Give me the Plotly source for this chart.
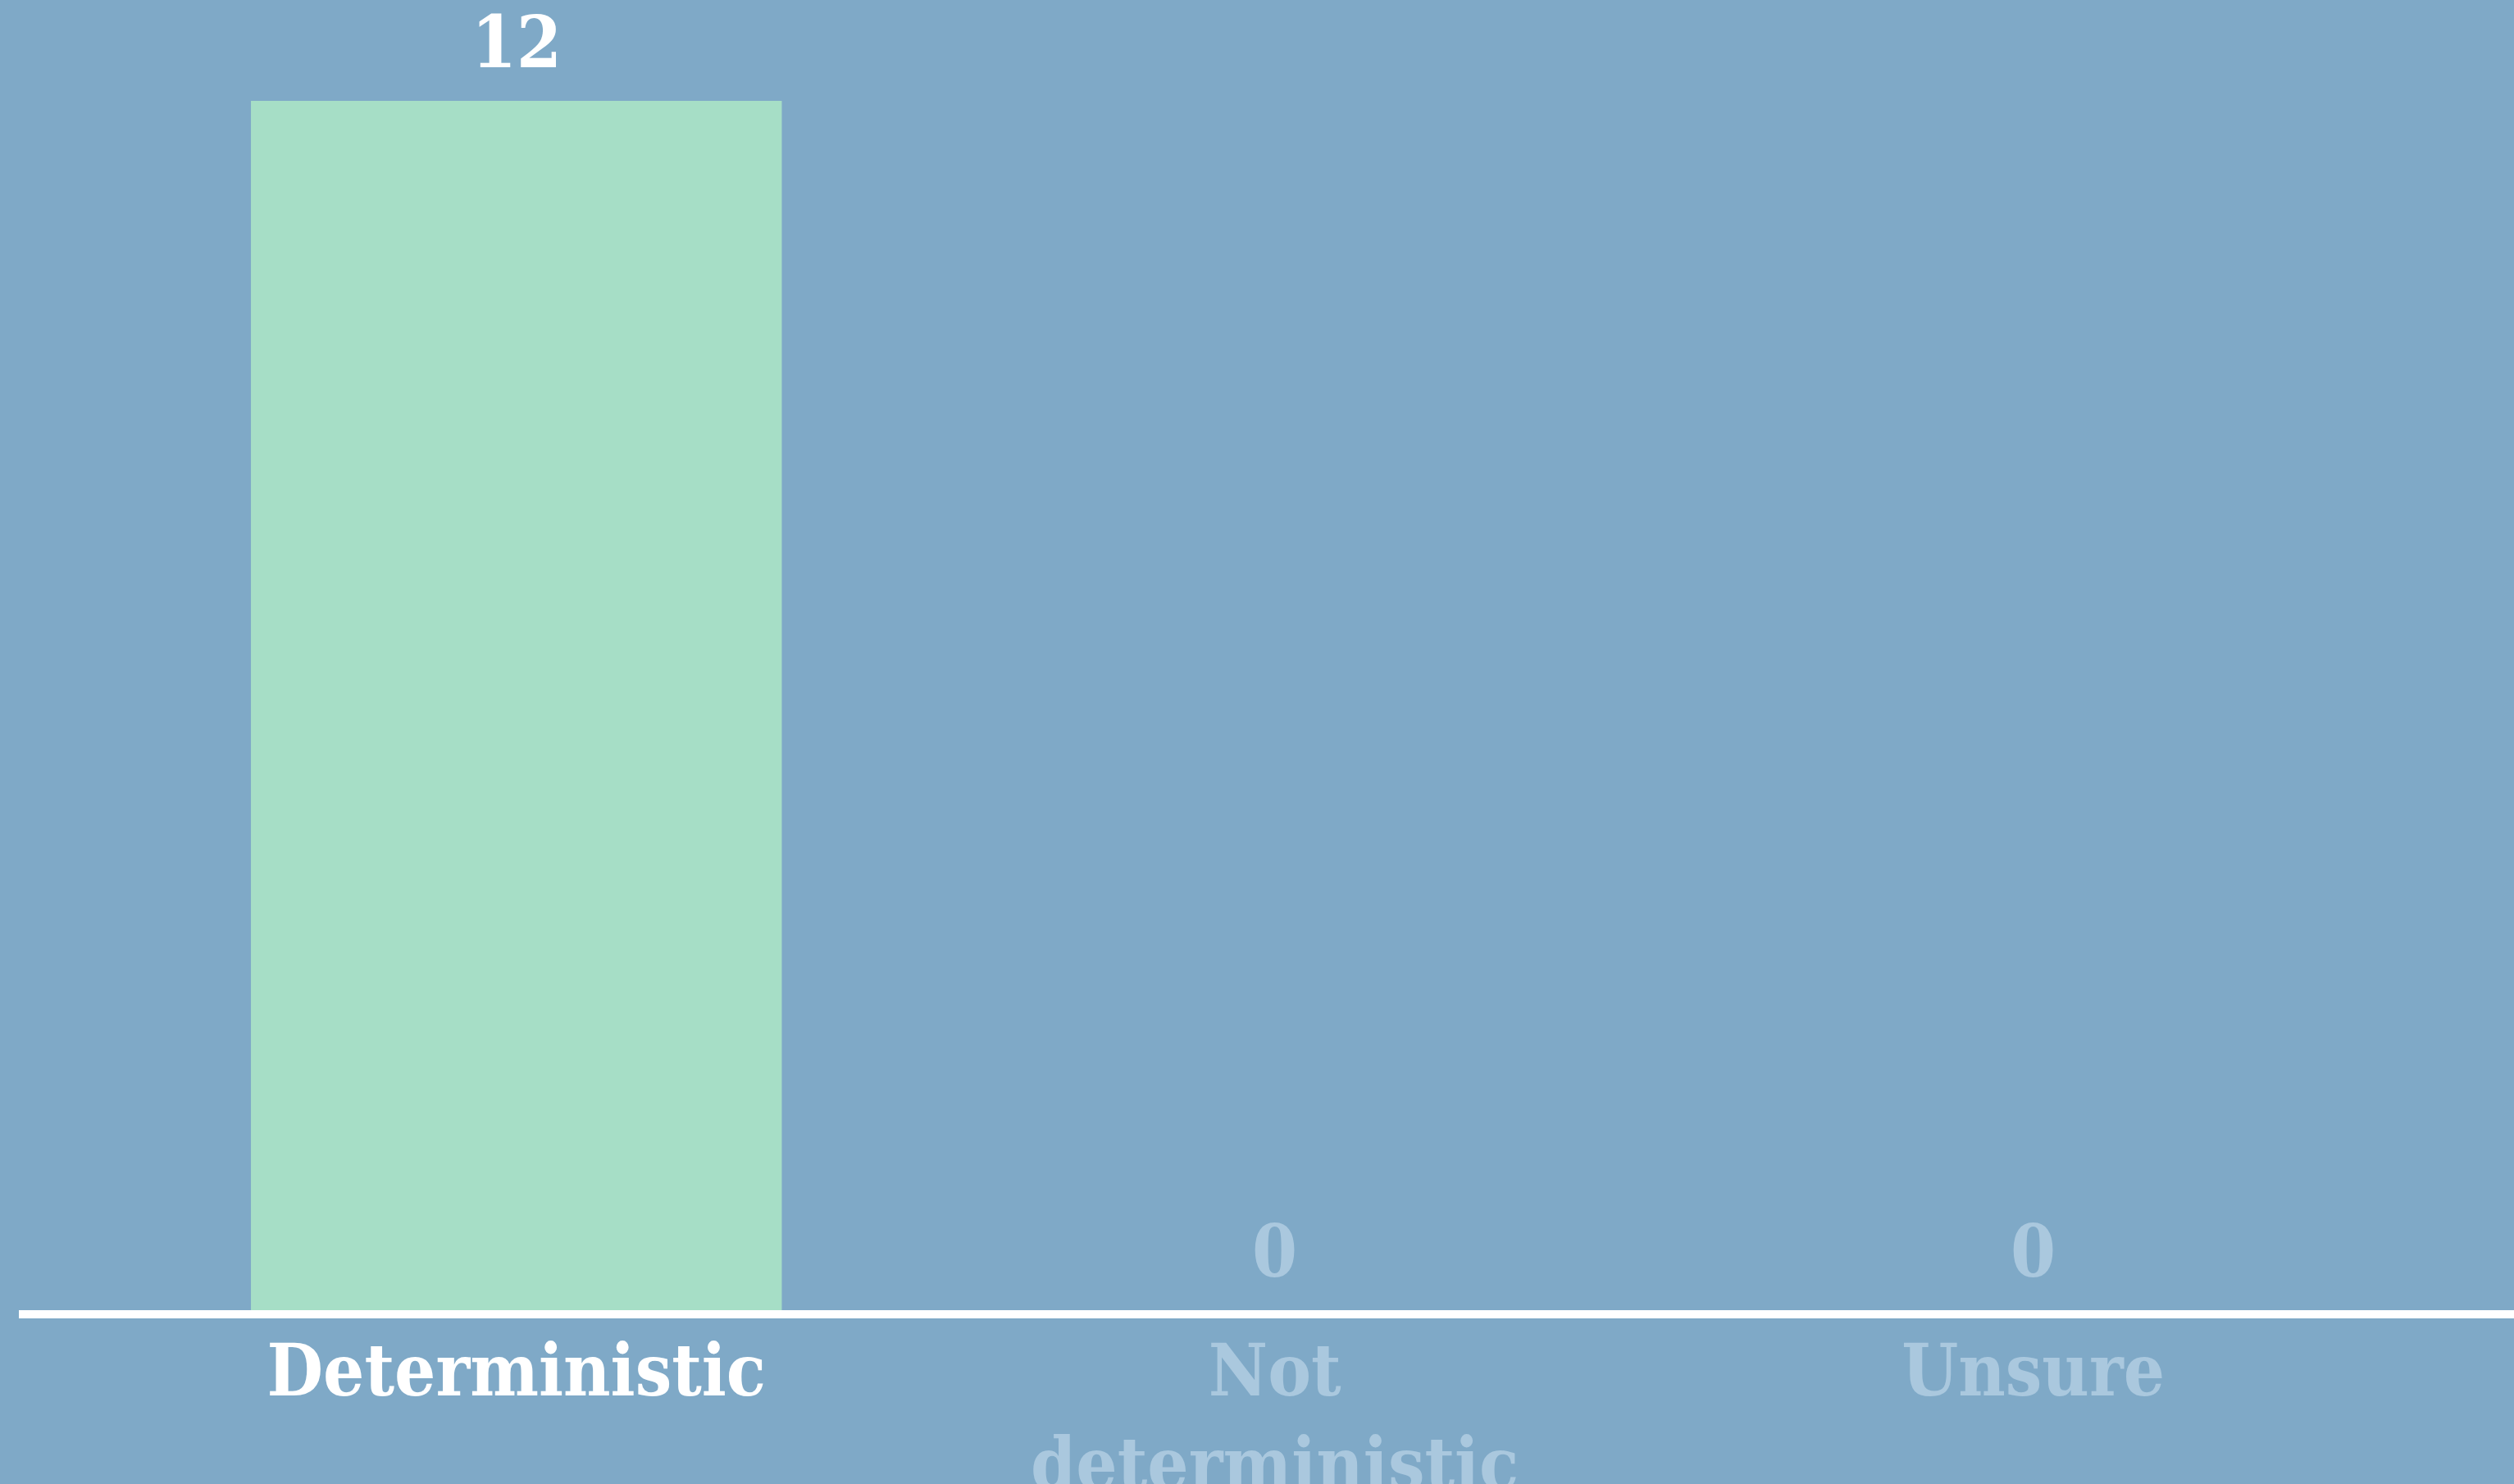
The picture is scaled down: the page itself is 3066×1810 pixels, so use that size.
import plotly.graph_objects as go

categories = ["Deterministic", "Not<br>deterministic", "Unsure"]
values = [12, 0, 0]
active = [True, False, False]

BG = "#7fa9c7"
BAR = "#a6dec6"
WHITE = "#ffffff"
FADED = "#aac8de"
FONT = "DejaVu Serif Condensed, DejaVu Serif, serif"

xs = list(range(len(categories)))
ticktext = [
    f'<span style="color:{WHITE if a else FADED}">{c}</span>'
    for c, a in zip(categories, active)
]

fig = go.Figure()
fig.add_trace(go.Bar(
    x=xs, y=values, width=0.70,
    marker=dict(color=BAR, line=dict(width=0)),
    hoverinfo="skip",
))

for x, v, a in zip(xs, values, active):
    fig.add_annotation(
        x=x, y=v, text=str(v), showarrow=False,
        yanchor="bottom", yshift=18,
        font=dict(family=FONT, size=88, weight="bold", color=WHITE if a else FADED),
    )

fig.update_layout(
    width=3066, height=1810,
    margin=dict(l=23, r=0, t=0, b=212),
    paper_bgcolor=BG, plot_bgcolor=BG,
    showlegend=False,
    font=dict(family=FONT, size=88, color=WHITE),
    xaxis=dict(
        range=[-0.656, 2.634],
        tickvals=xs, ticktext=ticktext,
        showline=True, linecolor=WHITE, linewidth=10,
        showgrid=False, zeroline=False, ticks="",
        tickfont=dict(family=FONT, size=88, weight="bold"),
        ticklabelstandoff=-12,
        automargin=False,
        fixedrange=True,
    ),
    yaxis=dict(
        range=[0, 13.0], visible=False, showgrid=False, zeroline=False,
        automargin=False,
        fixedrange=True,
    ),
)

fig.write_html("out.html")
